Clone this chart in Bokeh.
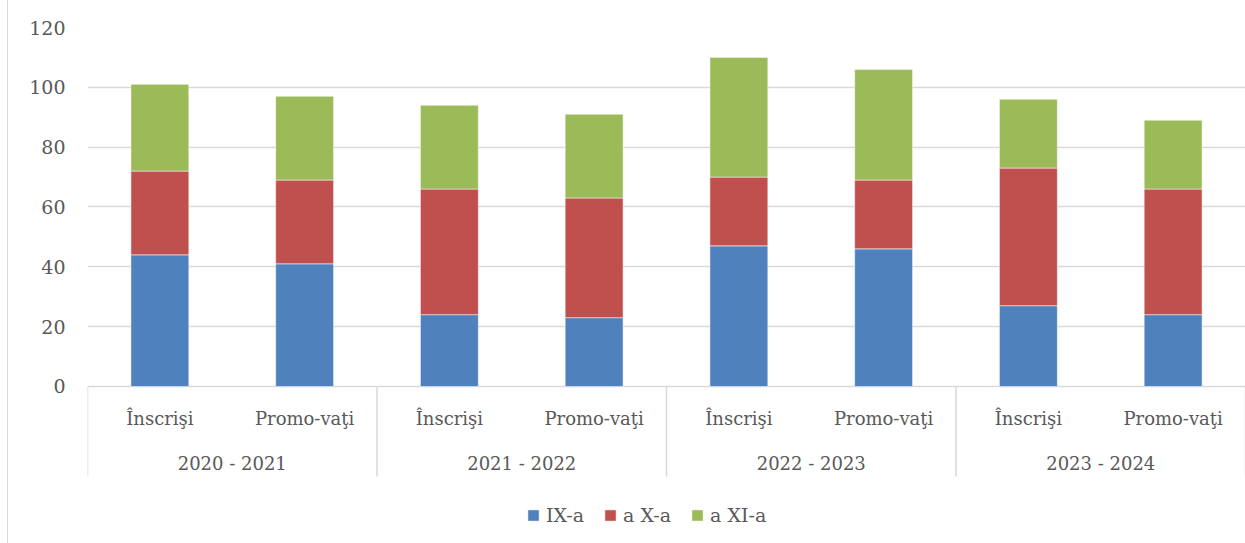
from bokeh.plotting import figure
from bokeh.models import FactorRange, ColumnDataSource, Legend, LegendItem, FixedTicker, Range1d
from bokeh.core.properties import value
from bokeh.embed import file_html
from bokeh.resources import INLINE

years = ["2020 - 2021", "2021 - 2022", "2022 - 2023", "2023 - 2024"]
kinds = ["Înscrişi", "Promo-vaţi"]
series = ["IX-a", "a X-a", "a XI-a"]
ix_a = [44, 41, 24, 23, 47, 46, 27, 24]
x_a = [28, 28, 42, 40, 23, 23, 46, 42]
xi_a = [29, 28, 28, 28, 40, 37, 23, 23]
colors = ["#4F81BD", "#C0504D", "#9BBB59"]
y_ticks = [0, 20, 40, 60, 80, 100, 120]

factors = [(y, k) for y in years for k in kinds]
src = ColumnDataSource(data=dict(x=factors, s0=ix_a, s1=x_a, s2=xi_a))

FONT = "DejaVu Serif"
TXT = "#595959"
GRID = "#d9d9d9"

# vertical layout (data units below zero hold the category labels and legend)
SUB_Y = -10.7
GRP_Y = -25.7
SEP_Y = -30.1
Y_MIN = -52.5

p = figure(x_range=FactorRange(*factors, range_padding=0, group_padding=0, factor_padding=0),
           y_range=Range1d(Y_MIN, 120),
           frame_width=1158, frame_height=516, output_backend="svg", toolbar_location=None,
           min_border_left=79, min_border_top=27, min_border_right=0, min_border_bottom=0)
p.outline_line_color = None
p.styles = {"margin-left": "7px", "border-left": "1.5px solid #d9d9d9"}

rs = p.vbar_stack(["s0", "s1", "s2"], x="x", width=0.4, source=src,
                  color=colors, line_color="white", line_width=0.5)

# category labels
sub_src = ColumnDataSource(data=dict(x=factors, y=[SUB_Y] * len(factors),
                                     t=[k for _, k in factors]))
p.text(x="x", y="y", text="t", source=sub_src, text_align="center", text_baseline="middle",
       text_font=value(FONT), text_font_size="18px", text_color=TXT)
grp_src = ColumnDataSource(data=dict(x=years, y=[GRP_Y] * len(years), t=years))
p.text(x="x", y="y", text="t", source=grp_src, text_align="center", text_baseline="middle",
       text_font=value(FONT), text_font_size="18px", text_color=TXT)

# group separators
n_sub = len(kinds)
sep_x = [i * n_sub for i in range(len(years) + 1)]
p.segment(x0=sep_x, x1=sep_x, y0=[0] * len(sep_x), y1=[SEP_Y] * len(sep_x),
          line_color=GRID, line_width=1.5)

p.xaxis.visible = False
p.xgrid.grid_line_color = None

p.yaxis.ticker = FixedTicker(ticks=y_ticks)
p.yaxis.axis_line_color = None
p.yaxis.major_tick_line_color = None
p.yaxis.minor_tick_line_color = None
p.yaxis.major_label_standoff = 16
p.yaxis.major_label_text_font = FONT
p.yaxis.major_label_text_font_size = "19px"
p.yaxis.major_label_text_color = TXT

p.ygrid.ticker = FixedTicker(ticks=y_ticks)
p.ygrid.grid_line_color = GRID
p.ygrid.grid_line_width = 1.5

legend = Legend(items=[LegendItem(label=s, renderers=[r]) for s, r in zip(series, rs)],
                orientation="horizontal", location=(439, 17),
                label_text_font=FONT, label_text_font_size="19px", label_text_color=TXT,
                glyph_width=14, glyph_height=14, spacing=19, label_standoff=6,
                border_line_color=None, background_fill_alpha=0, margin=0, padding=4)
p.add_layout(legend, "center")

open("out.html", "w").write(file_html(p, INLINE))
